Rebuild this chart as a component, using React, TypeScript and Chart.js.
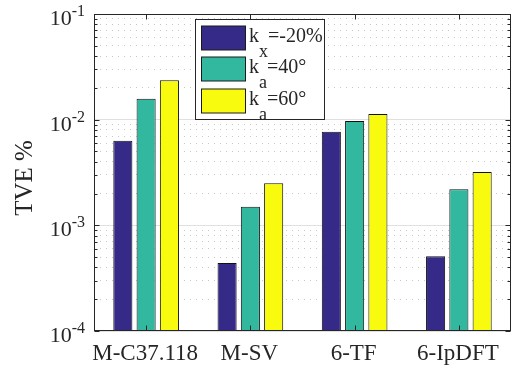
import React, { useEffect, useRef } from "react";
import { Chart, registerables } from "chart.js";

Chart.register(...registerables);

const categories = ["M-C37.118", "M-SV", "6-TF", "6-IpDFT"];
const seriesKx20 = [0.0063, 0.00044, 0.0077, 0.00051];
const seriesKa40 = [0.0158, 0.0015, 0.0097, 0.0022];
const seriesKa60 = [0.0236, 0.0025, 0.0113, 0.0032];
const seriesBase = ["k", "k", "k"];
const seriesSub = ["x", "a", "a"];
const seriesRest = ["=-20%", "=40°", "=60°"];
const seriesColors = ["#352a87", "#33b8a0", "#f9fb0e"];
const yDecadeExponents = [-4, -3, -2, -1];
const yMinorMultipliers = [1, 2, 3, 4, 5, 6, 7, 8, 9];
const yTitle = "TVE %";

const FONT = '"Liberation Serif", "Times New Roman", serif';
const AXIS = "#262626";

const isMajor = (v: number) => {
  const l = Math.log10(v);
  return Math.abs(l - Math.round(l)) < 1e-9;
};

const decorPlugin = {
  id: "decor",
  afterDraw(chart: any) {
    const ctx = chart.ctx as CanvasRenderingContext2D;
    const { left, right, top, bottom } = chart.chartArea;
    const x = chart.scales.x;
    const y = chart.scales.y;
    const L = Math.round(left) + 0.5;
    const R = Math.round(right) - 0.5;
    const T = Math.round(top) + 0.5;
    const B = Math.round(bottom) - 0.5;
    ctx.save();
    ctx.strokeStyle = AXIS;
    ctx.lineWidth = 1;
    ctx.beginPath();
    for (const t of y.ticks) {
      const py = Math.round(y.getPixelForValue(t.value)) + 0.5;
      const len = isMajor(t.value) ? 5 : 3;
      ctx.moveTo(L, py);
      ctx.lineTo(L + len, py);
      ctx.moveTo(R, py);
      ctx.lineTo(R - len, py);
    }
    categories.forEach((_, i) => {
      const px = Math.round(x.getPixelForValue(i)) + 0.5;
      ctx.moveTo(px, B);
      ctx.lineTo(px, B - 5);
      ctx.moveTo(px, T);
      ctx.lineTo(px, T + 5);
    });
    ctx.stroke();
    ctx.strokeRect(L, T, R - L, B - T);

    ctx.fillStyle = AXIS;
    ctx.textAlign = "left";
    ctx.textBaseline = "alphabetic";
    for (const e of yDecadeExponents) {
      const py = y.getPixelForValue(Math.pow(10, e));
      const baseTxt = "10";
      const expTxt = String(e);
      ctx.font = `22px ${FONT}`;
      const bw = ctx.measureText(baseTxt).width;
      ctx.font = `16px ${FONT}`;
      const ew = ctx.measureText(expTxt).width;
      const xs = 85 - bw - ew;
      ctx.font = `22px ${FONT}`;
      ctx.fillText(baseTxt, xs, py + 11);
      ctx.font = `16px ${FONT}`;
      ctx.fillText(expTxt, xs + bw, py + 2);
    }

    ctx.font = `23px ${FONT}`;
    ctx.textAlign = "center";
    categories.forEach((c, i) => {
      ctx.fillText(c, x.getPixelForValue(i) - 1, 360);
    });

    ctx.save();
    ctx.translate(32, 178);
    ctx.rotate(-Math.PI / 2);
    ctx.font = `25px ${FONT}`;
    ctx.textAlign = "center";
    ctx.fillText(yTitle, 0, 0);
    ctx.restore();

    const lx = 195.5, ly = 19.5, lw = 129, lh = 100;
    ctx.fillStyle = "#ffffff";
    ctx.fillRect(lx, ly, lw, lh);
    ctx.strokeStyle = AXIS;
    ctx.strokeRect(lx, ly, lw, lh);
    const rowCenters = [38, 69, 101];
    chart.data.datasets.forEach((ds: any, i: number) => {
      const cy = rowCenters[i];
      ctx.fillStyle = ds.backgroundColor;
      ctx.fillRect(201.5, cy - 12, 44, 24);
      ctx.strokeStyle = "#1a1a1a";
      ctx.strokeRect(201.5, cy - 12, 44, 24);
      ctx.fillStyle = AXIS;
      ctx.textAlign = "left";
      let tx = 249;
      ctx.font = `20px ${FONT}`;
      ctx.fillText(seriesBase[i], tx, cy + 4);
      tx += ctx.measureText(seriesBase[i]).width;
      ctx.font = `18px ${FONT}`;
      ctx.fillText(seriesSub[i], tx, cy + 19);
      tx += ctx.measureText(seriesSub[i]).width;
      ctx.font = `20px ${FONT}`;
      ctx.fillText(seriesRest[i], tx, cy + 4);
    });
    ctx.restore();
  },
};

export default function App() {
  const ref = useRef<HTMLCanvasElement | null>(null);
  useEffect(() => {
    document.body.style.margin = "0";
    const canvas = ref.current;
    if (!canvas) return;
    const seriesData = [seriesKx20, seriesKa40, seriesKa60];
    const chart = new Chart(canvas, {
      type: "bar",
      data: {
        labels: categories,
        datasets: seriesData.map((d, i) => ({
          label: seriesBase[i] + seriesSub[i] + seriesRest[i],
          data: d,
          backgroundColor: seriesColors[i],
          borderColor: "#111111",
          borderWidth: 1,
          categoryPercentage: 0.67,
          barPercentage: 0.82,
        })),
      },
      options: {
        responsive: false,
        maintainAspectRatio: false,
        animation: false,
        layout: { padding: { left: 94, top: 14, right: 3, bottom: 40 } },
        plugins: { legend: { display: false }, tooltip: { enabled: false } },
        scales: {
          x: {
            type: "category",
            offset: true,
            grid: { display: false, drawTicks: false },
            ticks: { display: false },
            border: { display: false },
            afterFit: (s: any) => {
              s.height = 0;
            },
          },
          y: {
            type: "logarithmic",
            min: 1e-4,
            max: 1e-1,
            ticks: { display: false },
            afterBuildTicks: (s: any) => {
              const ticks: any[] = [];
              for (const e of yDecadeExponents.slice(0, -1)) {
                for (const m of yMinorMultipliers) {
                  ticks.push({ value: m * Math.pow(10, e) });
                }
              }
              ticks.push({ value: Math.pow(10, yDecadeExponents[yDecadeExponents.length - 1]) });
              s.ticks = ticks;
            },
            afterFit: (s: any) => {
              s.width = 0;
            },
            grid: {
              drawTicks: false,
              lineWidth: 1,
              color: (c: any) => (c.tick && isMajor(c.tick.value) ? "#e0e0e0" : "#c8c8c8"),
            },
            border: {
              display: false,
              dash: (c: any) => (c.tick && isMajor(c.tick.value) ? [] : [1, 5]),
            },
          },
        },
      },
      plugins: [decorPlugin],
    } as any);
    return () => {
      chart.destroy();
    };
  }, []);
  return (
    <div style={{ width: 514, height: 371, background: "#fff" }}>
      <canvas ref={ref} width={514} height={371} style={{ display: "block" }} />
    </div>
  );
}
